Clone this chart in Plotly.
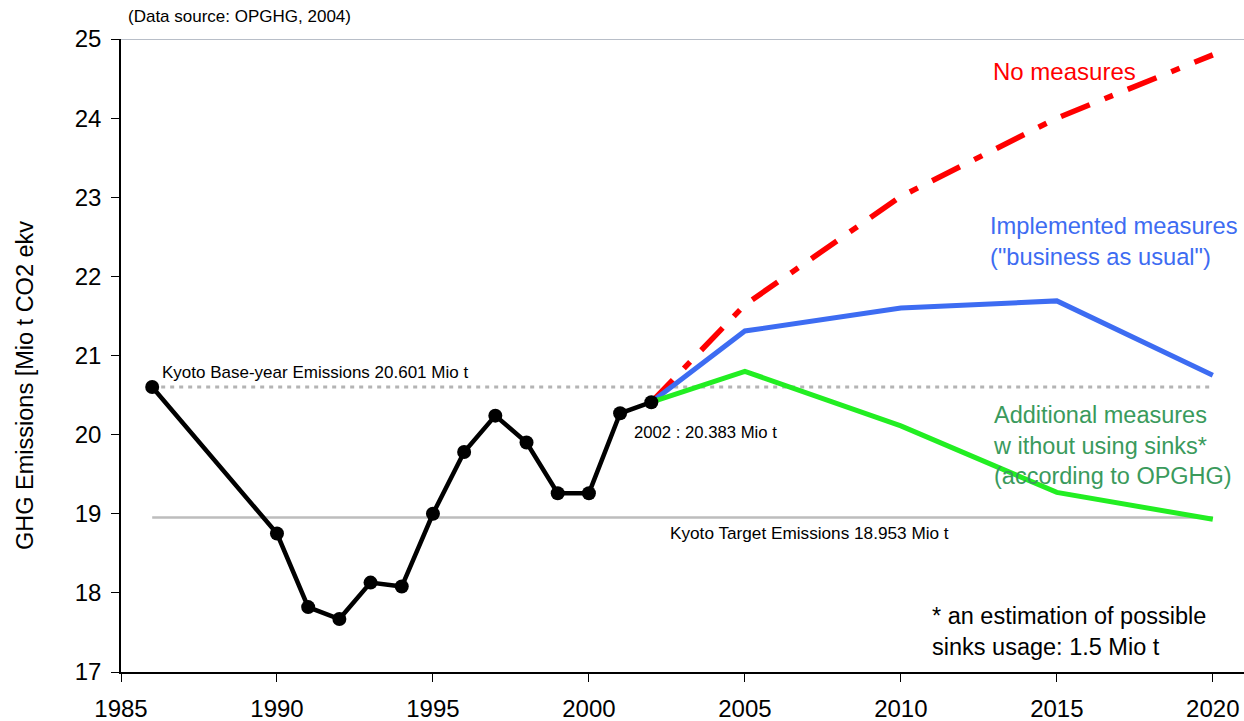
import plotly.graph_objects as go

# ---- data ----
hist_years = [1986, 1990, 1991, 1992, 1993, 1994, 1995, 1996, 1997, 1998, 1999, 2000, 2001, 2002]
hist_values = [20.601, 18.75, 17.82, 17.67, 18.13, 18.08, 19.00, 19.78, 20.24, 19.90, 19.26, 19.26, 20.27, 20.41]

proj_years = [2002, 2005, 2010, 2015, 2020]
no_measures = [20.41, 21.64, 23.01, 24.00, 24.80]
implemented = [20.41, 21.31, 21.60, 21.69, 20.75]
additional = [20.41, 20.80, 20.11, 19.27, 18.93]

base_year_emissions = 20.601
target_emissions = 18.953
line_start, line_end = 1986, 2020

x_ticks = [1985, 1990, 1995, 2000, 2005, 2010, 2015, 2020]
y_ticks = [17, 18, 19, 20, 21, 22, 23, 24, 25]

FONT = "Liberation Sans, Arial, sans-serif"
GREEN_TXT = "#3a9a5c"
BLUE = "#3d6cf2"

# layout geometry (page pixels; body margin removed by post_script)
W, H = 1244, 721
PLOT_L, PLOT_R, PLOT_T, PLOT_B = 121, 1244, 39, 672
ML, MR, MT, MB = PLOT_L, W - PLOT_R, PLOT_T, H - PLOT_B
PW, PH = PLOT_R - PLOT_L, PLOT_B - PLOT_T

def px(xp):
    return (xp - PLOT_L) / PW

def py(yp):
    return (PLOT_B - yp) / PH

fig = go.Figure()

# reference lines
fig.add_trace(go.Scatter(x=[line_start, line_end], y=[base_year_emissions] * 2, mode="lines",
                         line=dict(color="#b4b4b4", width=3, dash="4px,5px"), hoverinfo="skip"))
fig.add_trace(go.Scatter(x=[line_start, line_end], y=[target_emissions] * 2, mode="lines",
                         line=dict(color="#bdbdbd", width=2.5), hoverinfo="skip"))

# projections
fig.add_trace(go.Scatter(x=proj_years, y=no_measures, mode="lines",
                         line=dict(color="#ff0000", width=5.5, dash="31px,16px,9px,16px")))
fig.add_trace(go.Scatter(x=proj_years, y=implemented, mode="lines",
                         line=dict(color=BLUE, width=5)))
fig.add_trace(go.Scatter(x=proj_years, y=additional, mode="lines",
                         line=dict(color="#22ee22", width=5)))

# history
fig.add_trace(go.Scatter(x=hist_years, y=hist_values, mode="lines+markers",
                         line=dict(color="black", width=4.5),
                         marker=dict(color="black", size=14)))

# top border line
fig.add_shape(type="line", xref="paper", yref="y", x0=0, x1=1, y0=25, y1=25,
              line=dict(color="#b8bec8", width=2))

annotations = []

def add(text, xpix, ypix, size, color="black", xanchor="left", angle=0):
    annotations.append(dict(text=text, x=px(xpix), y=py(ypix), xref="paper", yref="paper",
                            showarrow=False, xanchor=xanchor, yanchor="middle", align="left",
                            textangle=angle,
                            font=dict(family=FONT, size=size, color=color)))

add("(Data source: OPGHG, 2004)", 126, 17, 17)
add("Kyoto Base-year Emissions 20.601 Mio t", 160, 372, 17)
add("2002 : 20.383 Mio t", 632, 432, 16.7)
add("Kyoto Target Emissions 18.953 Mio t", 668, 533, 17.2)
add("No measures", 991, 72, 24, "#ff0000")
add("Implemented measures<br>(\"business as usual\")", 988, 241, 23.7, BLUE)
add("Additional measures<br>w ithout using sinks*<br>(according to OPGHG)", 991, 446, 23.5, GREEN_TXT)
add("* an estimation of possible<br>sinks usage: 1.5 Mio t", 930, 631, 23.5)
add("GHG Emissions [Mio t CO2 ekv", 25, 386, 23.5, xanchor="center", angle=-90)

fig.update_layout(
    annotations=annotations,
    width=W, height=H,
    margin=dict(l=ML, r=MR, t=MT, b=MB, autoexpand=False),
    paper_bgcolor="white", plot_bgcolor="white",
    showlegend=False,
    hovermode=False,
    font=dict(family=FONT, size=24, color="black"),
    xaxis=dict(range=[1985, 2021], tickvals=x_ticks, ticktext=[str(v) for v in x_ticks],
               automargin=False,
               showgrid=False, zeroline=False, showline=True, linecolor="black", linewidth=1.5,
               ticks="outside", ticklen=8, tickcolor="black", tickwidth=1.2,
               ticklabelstandoff=6,
               tickfont=dict(family=FONT, size=24, color="black")),
    yaxis=dict(range=[17, 25], tickvals=y_ticks, ticktext=[str(v) for v in y_ticks],
               automargin=False,
               showgrid=False, zeroline=False, showline=True, linecolor="black", linewidth=1.5,
               ticks="outside", ticklen=8, tickcolor="black", tickwidth=1.2,
               ticklabelstandoff=5,
               tickfont=dict(family=FONT, size=24, color="black")),
)

fig.write_html(
    "out.html",
    config={"displayModeBar": False},
    post_script="document.body.style.margin='0';document.body.style.overflow='hidden';",
)
